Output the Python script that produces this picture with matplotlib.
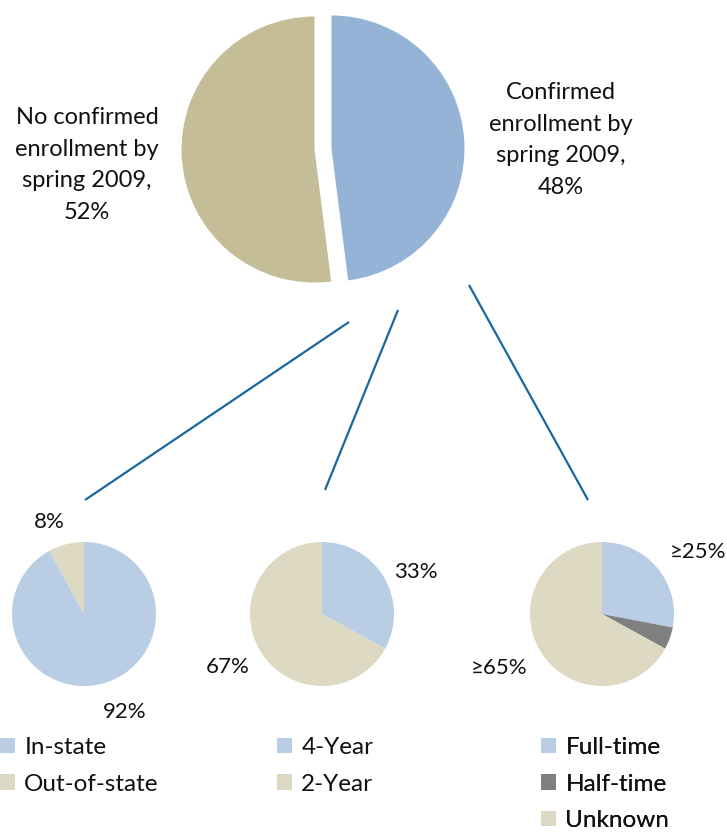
import matplotlib
matplotlib.use("Agg")
import matplotlib.pyplot as plt

plt.rcParams['font.family'] = ['Lato', 'DejaVu Sans']

W, H = 727, 833

# top pie
top_labels = ['Confirmed\nenrollment by\nspring 2009,\n48%',
              'No confirmed\nenrollment by\nspring 2009,\n52%']
top_values = [48, 52]

# breakdown pies
state_labels = ['In-state', 'Out-of-state']
state_values = [92, 8]
state_texts = ['92%', '8%']

type_labels = ['4-Year', '2-Year']
type_values = [33, 67]
type_texts = ['33%', '67%']

time_labels = ['Full-time', 'Half-time', 'Unknown']
time_values = [28, 5, 67]
time_texts = ['\u226525%', '', '\u226565%']

BIG_BLUE, BIG_TAN = '#95b3d7', '#c4bd97'
BLUE, TAN, GRAY = '#b9cde5', '#ddd9c3', '#808080'
LINE = '#1a67a0'
TXT = '#111111'

fig = plt.figure(figsize=(W / 100, H / 100), dpi=100)
ax = fig.add_axes([0, 0, 1, 1])


def px(x, y):
    # image pixel coords -> data coords (y up)
    return (x, H - y)


# big pie (explode is in data units here)
ax.pie(top_values, colors=[BIG_BLUE, BIG_TAN], startangle=90, counterclock=False,
       center=px(323, 149), radius=133, explode=[8.5, 8.5],
       wedgeprops=dict(linewidth=0), frame=True)
ax.text(*px(561, 140), top_labels[0], ha='center', va='center', fontsize=17,
        linespacing=1.62, color=TXT)
ax.text(*px(87, 165), top_labels[1], ha='center', va='center', fontsize=17,
        linespacing=1.62, color=TXT)

# connector lines
for (x0, y0), (x1, y1) in [((349, 322), (85, 500)),
                           ((398, 310), (325, 490)),
                           ((469, 285), (588, 500))]:
    ax.plot([x0, x1], [H - y0, H - y1], color=LINE, lw=1.6, solid_capstyle='butt')

# small pies
w1, _ = ax.pie(state_values, colors=[BLUE, TAN], startangle=90, counterclock=False,
               center=px(84, 614), radius=72, wedgeprops=dict(linewidth=0), frame=True)
w2, _ = ax.pie(type_values, colors=[BLUE, TAN], startangle=90, counterclock=False,
               center=px(322, 614), radius=72, wedgeprops=dict(linewidth=0), frame=True)
w3, _ = ax.pie(time_values, colors=[BLUE, GRAY, TAN], startangle=90, counterclock=False,
               center=px(602, 614), radius=72, wedgeprops=dict(linewidth=0), frame=True)

small_label_pos = [
    (state_texts, [(125, 712), (49, 522)]),
    (type_texts, [(416, 572), (228, 667)]),
    (time_texts, [(698, 552), None, (499, 668)]),
]
for texts, positions in small_label_pos:
    for t, p in zip(texts, positions):
        if p is None:
            continue
        ax.text(*px(*p), t, ha='center', va='center', fontsize=16, color=TXT)

# legends
leg_kw = dict(frameon=False, fontsize=17.5, handlelength=0.6, handleheight=0.6,
              handletextpad=0.4, labelspacing=0.64, borderpad=0, borderaxespad=0,
              loc='upper left', bbox_transform=fig.transFigure,
              labelcolor=TXT)
for wedges, labels, x in [(w1, state_labels, 0), (w2, type_labels, 277),
                          (w3, time_labels, 541)]:
    leg = ax.legend(wedges, labels, bbox_to_anchor=(x / W, 1 - 737 / H), **leg_kw)
    ax.add_artist(leg)

ax.set_xlim(0, W)
ax.set_ylim(0, H)
ax.set_aspect('equal')
ax.axis('off')

fig.savefig('out.png', dpi=100)
